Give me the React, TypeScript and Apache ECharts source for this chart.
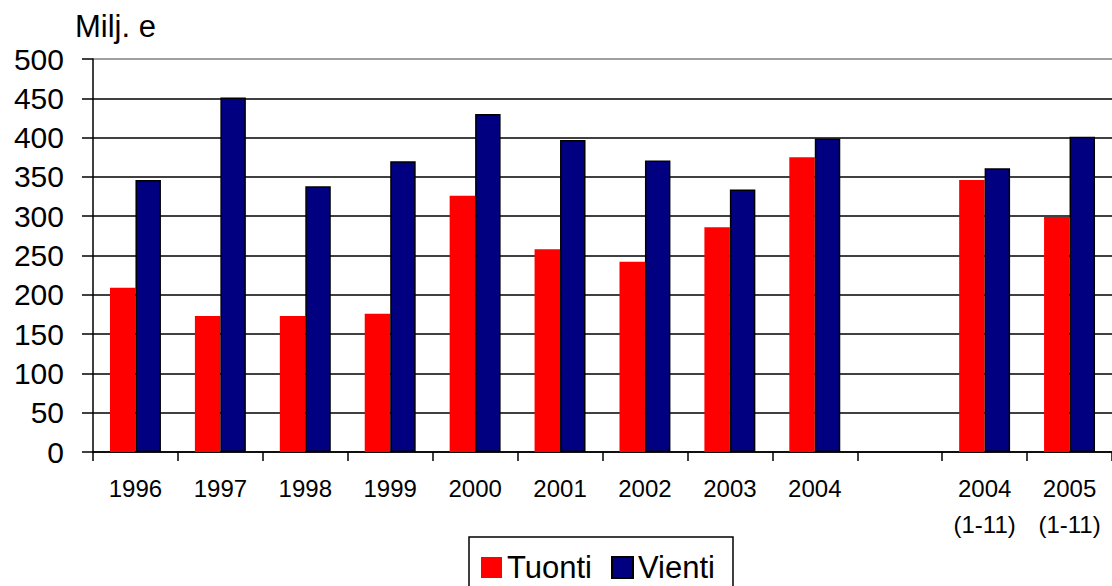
import React, { useEffect, useRef } from "react";
import * as echarts from "echarts";

const categories = [
  "1996",
  "1997",
  "1998",
  "1999",
  "2000",
  "2001",
  "2002",
  "2003",
  "2004",
  "",
  "2004\n(1-11)",
  "2005\n(1-11)",
];
const tuonti = [209, 173, 173, 176, 326, 258, 242, 286, 375, null, 346, 299];
const vienti = [346, 451, 338, 370, 430, 397, 371, 334, 399, null, 361, 401];
const yTicks = { min: 0, max: 500, interval: 50 };
const unitLabel = "Milj. e";

const FONT = "'Liberation Sans', Arial, sans-serif";

export default function App() {
  const ref = useRef<HTMLDivElement>(null);
  useEffect(() => {
    document.body.style.margin = "0";
    if (!ref.current) return;
    const chart = echarts.init(ref.current, undefined, { renderer: "svg" });
    const gridColors: string[] = [];
    const n = (yTicks.max - yTicks.min) / yTicks.interval + 1;
    for (let i = 0; i < n; i++) gridColors.push(i === n - 1 ? "#808080" : "#000000");
    chart.setOption({
      animation: false,
      backgroundColor: "#ffffff",
      grid: { left: 93, top: 59, bottom: 134, right: -4, containLabel: false },
      graphic: [
        {
          type: "text",
          left: 75,
          top: 11,
          style: { text: unitLabel, font: `31px ${FONT}`, fill: "#000" },
        },
      ],
      legend: {
        left: 469,
        top: 537,
        orient: "horizontal",
        borderColor: "#000",
        borderWidth: 1.5,
        padding: [15, 18, 20, 12],
        itemWidth: 21,
        itemHeight: 21,
        itemGap: 19,
        icon: "rect",
        textStyle: { fontSize: 31, fontFamily: FONT, color: "#000" },
        data: ["Tuonti", "Vienti"],
      },
      xAxis: {
        type: "category",
        data: categories,
        axisLine: { lineStyle: { color: "#000", width: 1.5 } },
        axisTick: { show: true, length: 9, lineStyle: { color: "#000", width: 1.5 } },
        axisLabel: {
          fontSize: 24,
          fontFamily: FONT,
          color: "#000",
          margin: 18,
          lineHeight: 36,
          interval: 0,
        },
        splitLine: { show: false },
      },
      yAxis: {
        type: "value",
        min: yTicks.min,
        max: yTicks.max,
        interval: yTicks.interval,
        axisLine: { show: true, lineStyle: { color: "#000", width: 1.5 } },
        axisTick: { show: true, length: 11, lineStyle: { color: "#000", width: 1.5 } },
        axisLabel: { fontSize: 30, fontFamily: FONT, color: "#000", margin: 29 },
        splitLine: { show: true, lineStyle: { color: gridColors, width: 1.5 } },
      },
      series: [
        {
          name: "Tuonti",
          type: "bar",
          data: tuonti,
          barWidth: "30%",
          barGap: "0%",
          itemStyle: { color: "#FF0000", borderWidth: 0 },
        },
        {
          name: "Vienti",
          type: "bar",
          data: vienti,
          barWidth: "30%",
          barGap: "0%",
          itemStyle: { color: "#000080", borderColor: "#000", borderWidth: 1.5 },
        },
      ],
    });
    return () => chart.dispose();
  }, []);
  return <div ref={ref} style={{ width: 1112, height: 586 }} />;
}
